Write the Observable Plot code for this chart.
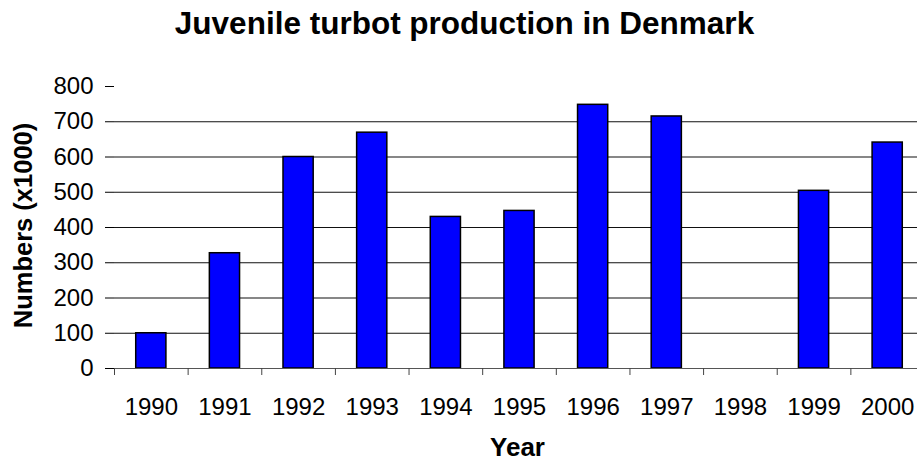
<!DOCTYPE html>
<html>
<head>
<meta charset="utf-8">
<script src="https://cdn.jsdelivr.net/npm/d3@7"></script>
<script src="https://cdn.jsdelivr.net/npm/@observablehq/plot@0.6"></script>
<style>
  body { margin: 0; background: #fff; }
  #chart svg { overflow: hidden; }
</style>
</head>
<body>
<div id="chart"></div>
<script>
const years = ["1990", "1991", "1992", "1993", "1994", "1995", "1996", "1997", "1998", "1999", "2000"];
const production = [100, 327, 600, 669, 430, 447, 748, 715, null, 504, 641];
const yTicks = [0, 100, 200, 300, 400, 500, 600, 700, 800];
const gridTicks = [100, 200, 300, 400, 500, 600, 700];
const titleText = "Juvenile turbot production in Denmark";
const xLabel = "Year";
const yLabel = "Numbers (x1000)";

const data = years
  .map((year, i) => ({ year, value: production[i] }))
  .filter(d => d.value != null);

const font = "Arial, 'Liberation Sans', sans-serif";
const step = 810 / years.length;

const chart = Plot.plot({
  width: 917,
  height: 461,
  marginLeft: 114,
  marginRight: 0,
  marginTop: 86,
  marginBottom: 93,
  style: { fontFamily: font, background: "white", color: "black", overflow: "hidden" },
  x: { domain: years, range: [114, 924], paddingInner: 0.59, paddingOuter: 0.295, round: false },
  y: { domain: [0, 800] },
  marks: [
    Plot.gridY(gridTicks, { stroke: "#111", strokeOpacity: 1, strokeWidth: 1.2 }),
    Plot.barY(data, { x: "year", y: "value", fill: "#0000FF", stroke: "black", strokeWidth: 1.5 }),
    Plot.ruleY([0], { stroke: "#555", strokeWidth: 1 }),
    Plot.axisY({ ticks: yTicks, tickSize: 9, tickPadding: 12, fontSize: 24, line: true, label: null, stroke: "black" }),
    Plot.axisX({ tickSize: 7, tickFormat: () => "", dx: -step / 2, label: null, stroke: "#444" }),
    Plot.axisX({ tickSize: 0, tickPadding: 29, fontSize: 24, label: null }),
    Plot.text([titleText], { frameAnchor: "top", textAnchor: "middle", lineAnchor: "middle", dx: -51.5, dy: -62.5, fontSize: 31.5, fontWeight: "bold", fill: "black" }),
    Plot.text([xLabel], { frameAnchor: "bottom", textAnchor: "middle", lineAnchor: "middle", dx: 1.5, dy: 79, fontSize: 26, fontWeight: "bold", fill: "black" }),
    Plot.text([yLabel], { frameAnchor: "left", textAnchor: "middle", lineAnchor: "middle", rotate: -90, dx: -91, dy: -2, fontSize: 25.5, fontWeight: "bold", fill: "black" })
  ]
});

document.getElementById("chart").appendChild(chart);
</script>
</body>
</html>
